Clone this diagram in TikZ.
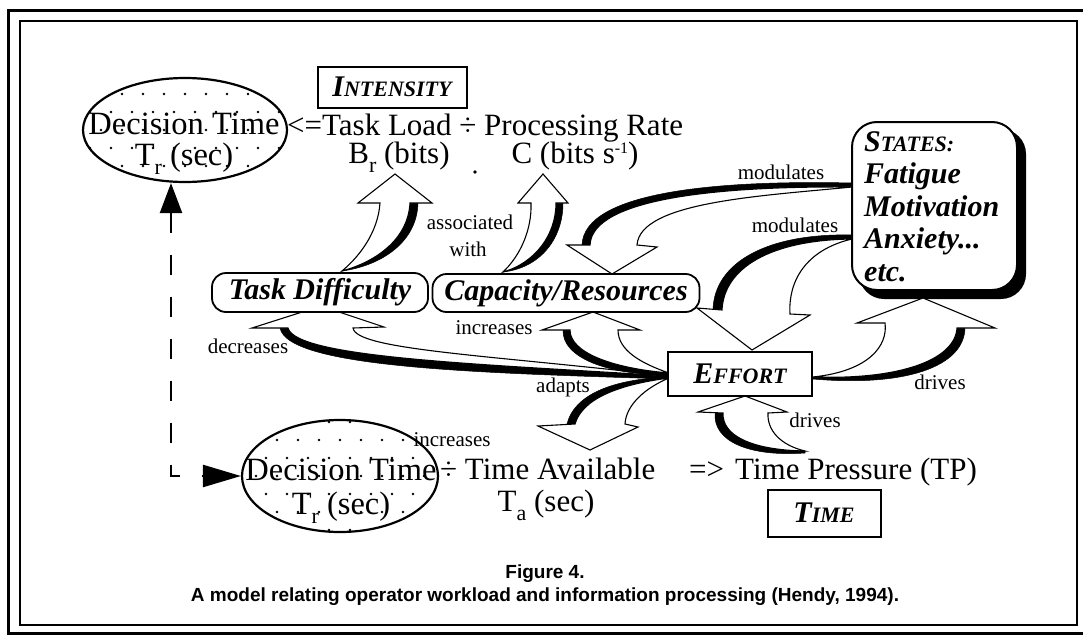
\documentclass[tikz,border=0pt]{standalone}
\usepackage{fontspec}
\setmainfont{Liberation Serif}
\newfontfamily\capfont{Liberation Sans}
\usetikzlibrary{shapes.geometric,arrows.meta,calc}
\pgfdeclarelayer{background}
\pgfsetlayers{background,main}
\newcommand{\bigtxt}{\fontsize{31}{35}\selectfont}
\newcommand{\elltxt}{\fontsize{32.5}{35}\selectfont}
\newcommand{\lbltxt}{\fontsize{21}{24}\selectfont}
\newcommand{\sctxt}{\fontsize{22}{24}\selectfont}
\newcommand{\subr}[1]{\raisebox{-0.3em}{\fontsize{22}{22}\selectfont #1}}
\begin{document}
\begin{tikzpicture}[x=1pt,y=-1pt,
  txt/.style={inner sep=0pt, font=\bigtxt},
  etxt/.style={inner sep=0pt, font=\elltxt},
  lbl/.style={inner sep=0pt, font=\lbltxt},
  kbox/.style={draw, line width=2pt, fill=white, inner sep=0pt, font=\fontsize{30}{34}\selectfont\bfseries\itshape},
  rbox/.style={draw, line width=1.8pt, fill=white, rounded corners=14pt, inner sep=0pt, font=\fontsize{30}{34}\selectfont\bfseries\itshape},
  ellnode/.style={ellipse, draw, line width=2.2pt, inner sep=0pt,
    path picture={\foreach \i in {-6,...,6} \foreach \j in {-4,...,4} {
      \fill ($(path picture bounding box.center)+({\i*21+10*mod(abs(\j),2)},{\j*18})$) circle (1.3pt);}}},
  bafill/.style={fill=white, draw=black, line width=1.1pt, line join=miter},
  bashade/.style={fill=black, draw=black, line width=0.5pt},
  dashline/.style={line width=2.4pt, dash pattern=on 20pt off 22pt}
]
\useasboundingbox (0,0) rectangle (1083,634);
% frames
\draw[line width=3pt] (8,11) rectangle (1095,633);
\draw[line width=2pt] (20,21) rectangle (1077,625);

% ellipses
\node[ellnode, minimum width=204pt, minimum height=104pt] (dt1) at (185,130) {};
\node[etxt, anchor=base] (dt1a) at (184,134) {Decision Time};
\node[etxt, anchor=base] (dt1b) at (184,165) {T\subr{r} (sec)};
\node[ellnode, minimum width=196pt, minimum height=112pt] (dt2) at (340,476) {};
\node[etxt, anchor=base] (dt2a) at (341,480) {Decision Time};
\node[etxt, anchor=base] (dt2b) at (341,514) {T\subr{r} (sec)};

% intensity line
\node[kbox, minimum width=149pt, minimum height=41pt] (int) at (392,87) {I{\sctxt NTENSITY}};
\node[txt, anchor=base west] (eq) at (287,135) {<=Task Load ÷ Processing Rate};
\node[txt, anchor=base] (br) at (399,163) {B\subr{r} (bits)};
\node[txt, anchor=base] (cc) at (575,163) {C (bits s\raisebox{10pt}{\fontsize{16}{16}\selectfont -1})};
\node[circle, fill, inner sep=1.3pt] (dot) at (475,172) {};

% boxes
\node[rbox, minimum width=216pt, minimum height=39pt] (td) at (320,292.5) {Task Difficulty};
\node[rbox, minimum width=267pt, minimum height=38pt] (cap) at (566,293) {Capacity/Resources};
\node[kbox, minimum width=144pt, minimum height=44pt] (eff) at (740,374) {E{\sctxt FFORT}};
\node[kbox, minimum width=113pt, minimum height=47pt] (time) at (824,513) {T{\sctxt IME}};
\node[draw, line width=2pt, fill=white, rounded corners=25pt, minimum width=165pt, minimum height=168pt] (st) at (934.5,206) {};
\node[anchor=north west, inner sep=0pt, align=left, font=\fontsize{30}{32.5}\selectfont\bfseries\itshape] (sttxt) at (864,131)
  {S{\sctxt TATES:}\\Fatigue\\Motivation\\Anxiety...\\etc.};

% bottom line
\node[txt, anchor=base west] (ta) at (440,479) {÷ Time Available};
\node[txt, anchor=base west] (imp) at (689,479) {=>};
\node[txt, anchor=base west] (tp) at (735,479) {Time Pressure (TP)};
\node[txt, anchor=base] (tasec) at (546,511) {T\subr{a} (sec)};

% labels
\node[lbl] (l1) at (781,172) {modulates};
\node[lbl] (l2) at (795,225) {modulates};
\node[lbl] (l3) at (470,222) {associated};
\node[lbl] (l4) at (468,249) {with};
\node[lbl] (l5) at (494,328) {increases};
\node[lbl] (l6) at (248,346) {decreases};
\node[lbl] (l7) at (563,387) {adapts};
\node[lbl] (l8) at (940,382) {drives};
\node[lbl] (l9) at (815,420) {drives};
\node[lbl] (l10) at (452,440) {increases};

% caption
\node[font=\capfont\bfseries\fontsize{19}{21}\selectfont] (fig) at (545,574) {Figure 4.};
\node[font=\capfont\bfseries\fontsize{19}{21}\selectfont] (capt) at (545,597) {A model relating operator workload and information processing (Hendy, 1994).};

% dashed feedback arrow
\coordinate (dcorner) at (171,476);
\draw[dashline, {Triangle[length=30pt,width=22pt]}-{Triangle[length=38pt,width=22pt]}] (dcorner |- dt1.south) -- (dcorner) -- (dt2.west);

\begin{pgfonlayer}{background}
\fill[white] (0,0) rectangle (1083,634);
% STATES shadow
\fill[black, rounded corners=25pt] ($(st.south west)+(8,8)$) rectangle ($(st.north east)+(8,8)$);
% arrow 6: Effort -> Task Difficulty
\filldraw[bashade] (669,376) .. controls (480,364) and (296,358) .. (288,328) -- (280,328) .. controls (288,368) and (480,373) .. (669,379) -- cycle;
\filldraw[bafill] (669,376) .. controls (490,355) and (356,350) .. (353,328) -- (384,327) -- (321,306) -- (252,328) -- (288,328) .. controls (296,358) and (480,364) .. (669,376) -- cycle;
% arrow 5: Effort -> Capacity
\filldraw[bashade] (669,373) .. controls (610,368) and (570,352) .. (570,330) -- (563,330) .. controls (562,358) and (608,375) .. (669,375) -- cycle;
\filldraw[bafill] (669,373) .. controls (640,363) and (618,350) .. (618,330) -- (640,330) -- (593,312) -- (542,330) -- (570,330) .. controls (570,352) and (610,368) .. (669,373) -- cycle;
% arrow 7: Effort -> Time Available
\filldraw[bashade] (669,378) .. controls (615,385) and (582,400) .. (575,424) -- (567,424) .. controls (574,395) and (612,379) .. (669,377) -- cycle;
\filldraw[bafill] (669,378) .. controls (645,388) and (626,405) .. (625,424) -- (638,427) -- (590,450) -- (538,426) -- (575,424) .. controls (582,400) and (615,385) .. (669,378) -- cycle;
% arrow 1: Task Difficulty -> B_r
\filldraw[bashade] (342,271) .. controls (375,262) and (408,240) .. (410,203) -- (418,203) .. controls (417,243) and (380,266) .. (342,271) -- cycle;
\filldraw[bafill] (342,271) .. controls (360,256) and (378,232) .. (380,203) -- (358,203) -- (395,174) -- (432,203) -- (410,203) .. controls (408,240) and (375,262) .. (342,271) -- cycle;
% arrow 2: Capacity -> C
\filldraw[bashade] (503,272) .. controls (535,263) and (556,235) .. (556,203) -- (563,203) .. controls (563,239) and (540,268) .. (503,272) -- cycle;
\filldraw[bafill] (503,272) .. controls (520,256) and (532,230) .. (531,203) -- (518,203) -- (543,174) -- (568,203) -- (556,203) .. controls (556,235) and (535,263) .. (503,272) -- cycle;
% arrow 3: States -> Capacity
\filldraw[bashade] (852,187) .. controls (720,186) and (592,198) .. (590,245) -- (582,245) .. controls (584,191) and (720,180) .. (852,183) -- cycle;
\filldraw[bafill] (852,187) .. controls (760,196) and (640,202) .. (637,245) -- (657,247) -- (612,274) -- (567,245) -- (590,245) .. controls (592,198) and (720,186) .. (852,187) -- cycle;
% arrow 4: States -> Effort
\filldraw[bashade] (852,239) .. controls (770,240) and (724,268) .. (722,310) -- (713,310) .. controls (714,262) and (768,233) .. (852,235) -- cycle;
\filldraw[bafill] (852,239) .. controls (805,250) and (788,282) .. (790,314) -- (810,315) -- (752,350) -- (697,308) -- (722,310) .. controls (724,268) and (770,240) .. (852,239) -- cycle;
% arrow 8: Effort -> States
\filldraw[bashade] (813,377) .. controls (900,380) and (955,360) .. (957,328) -- (965,328) .. controls (964,367) and (905,387) .. (813,379) -- cycle;
\filldraw[bafill] (813,377) .. controls (870,371) and (888,345) .. (885,323) -- (857,323) -- (923,298) -- (995,328) -- (957,328) .. controls (955,360) and (900,380) .. (813,377) -- cycle;
% arrow 9: Time Pressure -> Effort
\filldraw[bashade] (805,451) .. controls (750,450) and (722,435) .. (723,413) -- (715,413) .. controls (713,441) and (748,457) .. (805,453) -- cycle;
\filldraw[bafill] (805,451) .. controls (780,445) and (767,430) .. (768,413) -- (787,412) -- (745,396) -- (698,412) -- (723,413) .. controls (722,435) and (750,450) .. (805,451) -- cycle;
\end{pgfonlayer}
\end{tikzpicture}
\end{document}
